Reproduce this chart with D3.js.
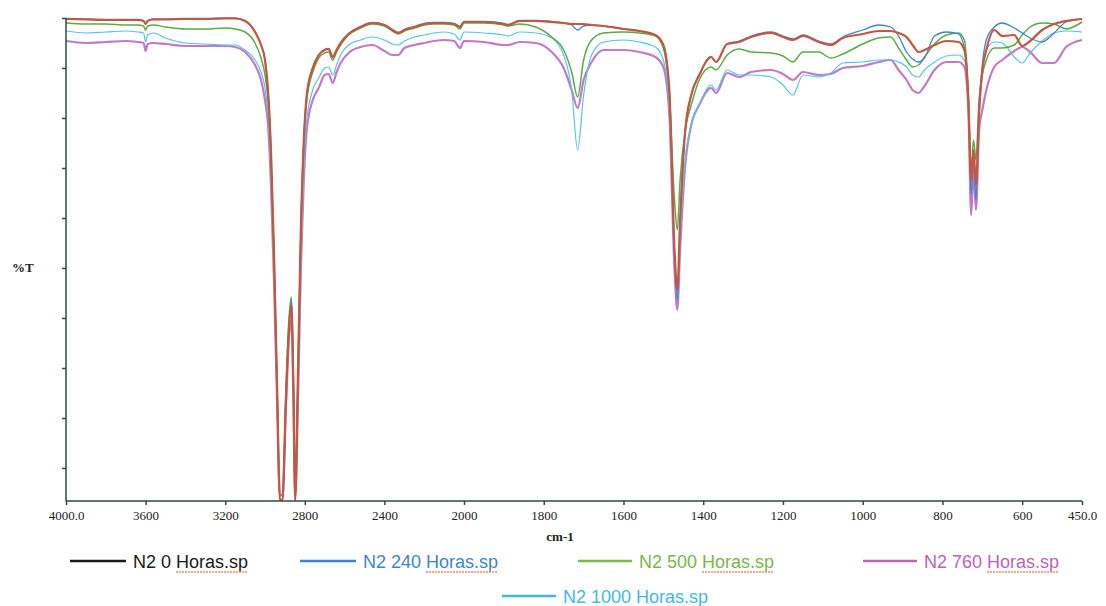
<!DOCTYPE html>
<html>
<head>
<meta charset="utf-8">
<script src="https://cdn.jsdelivr.net/npm/d3@7"></script>
<style>
  body { margin: 0; background: #fff; }
  svg { display: block; }
</style>
</head>
<body>
<svg id="chart" width="1106" height="606"></svg>
<script>
// wavenumber grid (cm-1) shared by every spectrum
const wavenumbers = [
  4000,3900,3800,3700,3640,3610,3600,3590,3560,3500,3400,3300,3200,3150,3100,
  3050,3020,3000,2985,2970,2955,2940,2925,2912,2895,2880,2867,2858,2848,2835,2820,2805,2790,
  2760,2730,2700,2680,2660,2640,2620,2580,2520,2460,2400,2360,2330,2300,2250,2200,2150,2100,2050,2020,2000,
  1950,1900,1890,1860,1820,1780,1750,1730,1715,1700,1680,1650,1600,1560,1520,1500,1485,1472,1465,1458,1445,
  1430,1410,1380,1368,1340,1310,1280,1230,1200,1175,1150,1110,1080,1050,1000,960,930,910,890,875,860,845,
  820,790,760,745,735,728,722,716,708,700,690,670,650,620,600,580,550,520,490,450
];

// %T
const h0 = [
  99.8,99.7,99.6,99.6,99.6,99.4,98.8,99.4,99.7,99.7,99.8,99.8,99.9,99.9,99.4,
  97.2,94.6,91.6,85.6,73.6,53.6,27.6,3.6,3.6,23.6,37.6,42.6,27.6,3.6,27.6,57.6,75.6,84.6,
  90,92.6,93.6,93.8,92.2,93.6,95,96.8,98.2,99,98.6,97.6,97,97.6,98.2,98.8,99,99,98.8,98.2,99.2,
  99.2,98.8,98.6,99.4,99.4,99.2,99,98.8,98.8,98.8,98.6,98.4,97.8,97.4,96.6,94.6,85.6,53.6,45.6,59.6,77.6,
  84.6,88.6,92.2,91.2,94.8,95.2,96.2,97,96.2,95.6,96.4,95.2,94.6,96,96.8,97.4,97.4,97,96.2,94.6,93.2,93.6,
  94.6,95.4,95.2,93.6,83.6,67.6,73.6,66.6,81.6,89.6,93.6,97.6,96.4,96.6,94.4,95.4,97.6,98.8,99.4,99.8
];
const h240 = [
  99.9,99.8,99.7,99.7,99.7,99.5,98.9,99.5,99.8,99.8,99.9,99.9,100,100,99.5,
  97.3,94.7,91.7,85.7,73.7,53.7,27.7,3.6,3.6,23.7,37.7,43.6,27.7,3.6,27.7,57.7,75.7,84.7,
  90.1,92.7,93.7,93.9,92.3,93.7,95.1,96.9,98.3,99.1,98.7,97.7,97.1,97.7,98.3,98.9,99.1,99.1,98.9,98.3,99.3,
  99.3,98.9,98.7,99.5,99.5,99.3,99,98.6,97.6,98.4,98.6,98.4,97.8,97.4,96.6,94.6,85.6,52.6,43.6,58.6,77.6,
  84.6,88.6,92.2,91.2,94.8,95.4,96.4,97.2,96.4,95.8,96.6,95.4,94.8,96.2,97.6,98.6,98.2,96.4,93.2,91.8,91.2,92,
  96.4,97.2,96.8,94,83.6,64.6,71.6,63.6,81.6,90.6,95.6,98.2,99,98,97,96,95.2,97,99.2,99.8
];
const h500 = [
  99,98.8,98.8,98.6,98.6,98.4,97.6,98.4,98.6,98.2,97.8,97.8,98,97.8,97.2,
  95,92,88.6,83.6,71.6,51.6,26.6,3.6,3.6,25.6,39.6,44.2,29.6,3.6,26.6,56.6,74.6,83.6,
  89.2,92,93,93.2,91.6,93.2,94.6,96.6,98,98.8,98.4,97.4,96.8,97.4,98,98.6,98.8,98.8,98.6,97.8,99,
  99,98.6,98.4,98.8,98.2,96.2,93.6,89.2,84.2,91.6,95.6,97,97.2,97,96.4,94,84.6,63.6,57.6,67.6,77.6,
  82.6,87.6,90.2,89.6,92.6,93.8,93.2,93,92.4,91.2,93.2,93.2,92,92.8,94.8,96,96.2,94,91.6,90.2,90.6,92.2,
  94.8,96.6,97,95.6,84.6,69.6,75.6,71.6,83.6,88.6,91.6,94,94,94.6,96.6,98.2,99,98.8,97.8,99.2
];
const h760 = [
  95.4,95,95.2,95.4,95.2,95,93.4,94.8,95,94.8,94.4,94.4,94.4,94.2,93.2,
  90.6,87.6,83.6,78.6,66.6,47.6,24.6,4.6,4.6,21.6,35.6,39.6,25.6,4.6,21.6,49.6,67.6,77.6,
  83.6,86,88.6,88.8,87,89.2,91,93,94.2,94.6,93.4,92.6,92.6,94,94.6,95,95.4,95.6,95.4,94,95.4,
  95.2,94.6,94.6,95.2,95,93.2,90,85.6,82,87.6,91.2,93.6,93.6,93.2,92.2,90.2,80.6,49.6,41.6,53.6,70.6,
  78.6,82.6,86,85,89,88.2,89.2,89.6,88.8,87.6,89.2,88.6,88.8,90,90.4,91.2,91.6,89.6,87.6,85.6,85,86.4,
  89.6,91.2,91.2,90.2,81.6,60.6,69.6,61.6,77.6,81.6,85.6,90.2,91.6,93.4,94.2,93.2,91,91,94.2,95.6
];
const h1000 = [
  97.4,97,97.2,97.4,97.2,97,95.2,96.6,97,96,95,94.8,94.6,94.6,93.6,
  91.6,89.2,86,80.6,68.6,49.6,25.6,3.6,3.6,23.6,37.6,41.6,27.6,3.6,23.6,51.6,69.6,79.6,
  85.6,88,90,90.2,88.6,90.6,92.6,94.6,95.6,96.2,95.6,94.8,94.6,95.4,96.2,96.6,97,97.2,96.8,95.6,97.2,
  97,96.6,96.4,97.2,97,96,92.6,85.6,73.6,84.6,92.6,95.2,95.6,95.2,94.2,91.6,81.6,51.6,43.6,55.6,71.6,
  78.6,82.6,86.6,85.6,89.6,88.6,88.6,88.2,86.6,84.6,88.6,88.2,89,91,91.2,91.6,91.6,91.2,90.2,88.6,88.2,89.6,
  91.2,92.4,92.6,91.6,83.6,66.6,73.6,65.6,79.6,88.6,93.6,95.2,95,92.2,91,93,95.4,97,97.4,97.2
];

const seriesNames = ["N2 0 Horas.sp", "N2 240 Horas.sp", "N2 500 Horas.sp", "N2 760 Horas.sp", "N2 1000 Horas.sp"];
const seriesValues = [h0, h240, h500, h760, h1000];
const lineColors = ["#c5563f", "#3f82d2", "#5aaa46", "#c37ac6", "#56c2ee"];
const legendColors = ["#1a1a1a", "#3d85d0", "#7ab648", "#b865b8", "#3fb8e8"];

const xTicks = [4000, 3600, 3200, 2800, 2400, 2000, 1800, 1600, 1400, 1200, 1000, 800, 600, 450];
const yTicks = [10, 20, 30, 40, 50, 60, 70, 80, 90, 100];

const svg = d3.select("#chart");
const plot = { left: 66, right: 1082, top: 18, bottom: 501 };

// wavenumber axis has a scale change at 2000 cm-1
const x = d3.scaleLinear()
  .domain([4000, 2000, 450])
  .range([plot.left, 464, plot.right]);

const y = d3.scaleLinear()
  .domain([3.4, 100])
  .range([plot.bottom, plot.top]);

svg.append("defs").append("clipPath").attr("id", "plotclip")
  .append("rect")
    .attr("x", plot.left)
    .attr("y", plot.top - 4)
    .attr("width", plot.right - plot.left + 2)
    .attr("height", plot.bottom - plot.top + 4);

const line = d3.line()
  .x(d => x(d[0]))
  .y(d => y(d[1]))
  .curve(d3.curveMonotoneX);

// draw order: magenta, cyan, green, blue, then 0h on top
const order = [3, 4, 2, 1, 0];
const widths = [2.2, 1.3, 1.5, 2.2, 1.2];

svg.append("g")
  .attr("clip-path", "url(#plotclip)")
  .selectAll("path")
  .data(order)
  .join("path")
    .attr("fill", "none")
    .attr("stroke", i => lineColors[i])
    .attr("stroke-width", i => widths[i])
    .attr("stroke-linejoin", "round")
    .attr("d", i => line(wavenumbers.map((w, k) => [w, seriesValues[i][k]])));

// axes
const axisColor = "#2d4b4b";

const yAxis = svg.append("g")
  .attr("transform", "translate(" + plot.left + ",0)")
  .call(d3.axisLeft(y).tickValues(yTicks).tickSize(4).tickFormat(""));
yAxis.select(".domain").attr("d", "M0," + plot.top + "V" + plot.bottom);

const xAxis = svg.append("g")
  .attr("transform", "translate(0," + plot.bottom + ")")
  .call(d3.axisBottom(x).tickValues(xTicks).tickSize(4).tickPadding(6)
    .tickFormat(d => (d === 4000 || d === 450) ? d.toFixed(1) : d));
xAxis.select(".domain").attr("d", "M" + plot.left + ",0H" + plot.right);

svg.selectAll(".domain, .tick line")
  .attr("stroke", axisColor)
  .attr("stroke-width", 1.5);
xAxis.selectAll("text")
  .style("font-family", "'Liberation Serif', 'DejaVu Serif', serif")
  .style("font-size", "13px")
  .attr("fill", "#222");

svg.append("text")
  .attr("x", 560)
  .attr("y", 541)
  .attr("text-anchor", "middle")
  .style("font-family", "'Liberation Serif', serif")
  .style("font-size", "13px")
  .style("font-weight", "bold")
  .attr("fill", "#222")
  .text("cm-1");

svg.append("text")
  .attr("x", 12)
  .attr("y", 272)
  .style("font-family", "'Liberation Serif', serif")
  .style("font-size", "13px")
  .style("font-weight", "bold")
  .attr("fill", "#222")
  .text("%T");

// legend
const legendX = [70, 300, 578, 863, 502];
const legendY = [561, 561, 561, 561, 596];
const legendLen = [56, 56, 54, 54, 54];

const legend = svg.append("g")
  .selectAll("g")
  .data(d3.range(seriesNames.length))
  .join("g")
    .attr("transform", i => "translate(" + legendX[i] + "," + legendY[i] + ")");

legend.append("line")
  .attr("x1", 0)
  .attr("x2", i => legendLen[i])
  .attr("stroke", i => legendColors[i])
  .attr("stroke-width", 2.6);

const labels = legend.append("text")
  .attr("x", i => legendLen[i] + 7)
  .attr("y", 6.5)
  .style("font-family", "'Liberation Sans', Arial, sans-serif")
  .style("font-size", "18px")
  .attr("fill", i => legendColors[i])
  .text(i => seriesNames[i]);

// spell-check style underline under "Horas.sp"
labels.each(function(i) {
  const name = seriesNames[i];
  const start = name.indexOf("Horas");
  const x0 = this.getStartPositionOfChar(start).x;
  const x1 = this.getEndPositionOfChar(name.length - 1).x;
  d3.select(this.parentNode).append("line")
    .attr("x1", x0)
    .attr("x2", x1)
    .attr("y1", 11)
    .attr("y2", 11)
    .attr("stroke", "#f08a6a")
    .attr("stroke-width", 1.6)
    .attr("stroke-dasharray", "2,1");
});
</script>
</body>
</html>
